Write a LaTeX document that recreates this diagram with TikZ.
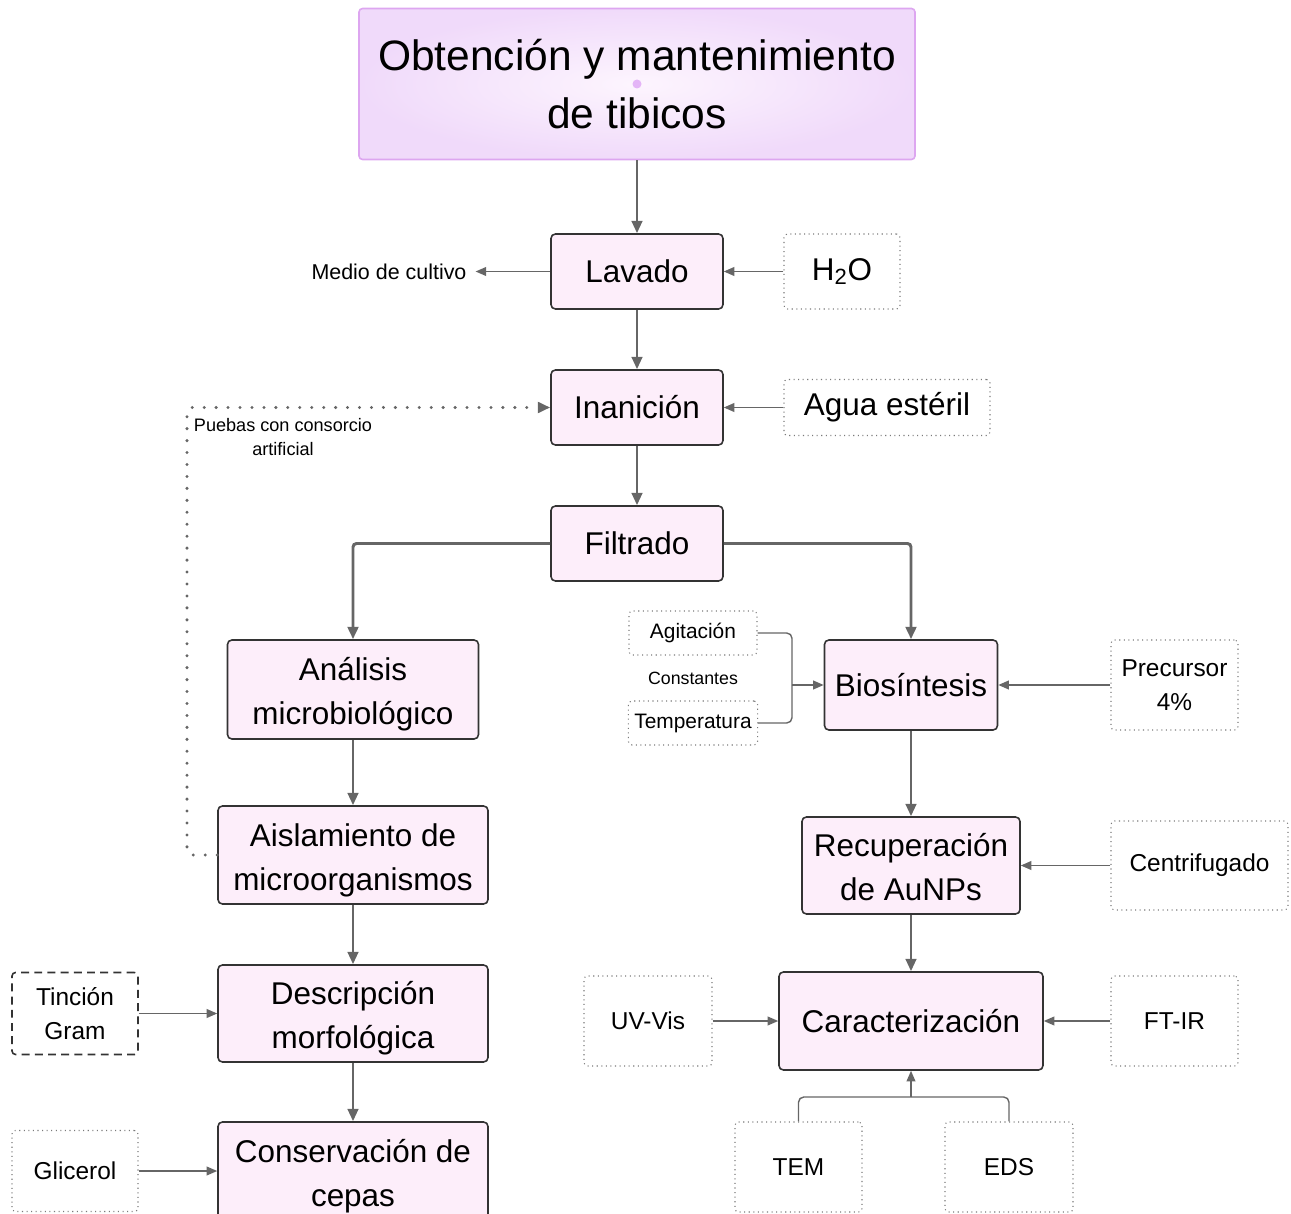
\documentclass[tikz,border=0pt]{standalone}
\usepackage{fontspec}
\setmainfont{Liberation Sans}
\usetikzlibrary{arrows.meta,positioning,calc}
\definecolor{tibpink}{HTML}{FDEEFA}
\definecolor{tibedge}{HTML}{333333}
\definecolor{tibline}{HTML}{666666}
\definecolor{tibviolet}{HTML}{DDA6F0}
\definecolor{tiblilac}{HTML}{F0DAFA}
\definecolor{tibglow}{HTML}{FDF5FE}
\definecolor{tibdot}{HTML}{7A7A7A}
\definecolor{tibmark}{HTML}{DA9AF5}

\begin{document}
\begin{tikzpicture}[
  tibproc/.style={draw=tibedge,fill=tibpink,rounded corners=2.5pt,line width=0.9pt,
    align=center,font=\fontsize{17.9}{25}\selectfont},
  tibtwo/.style={tibproc,text height=40pt,text depth=0pt},
  tibinput/.style={draw=tibdot,dotted,rounded corners=2pt,line width=0.6pt,
    align=center,font=\fontsize{13.9}{19.3}\selectfont},
  tibsmall/.style={tibinput,font=\fontsize{11.9}{14}\selectfont},
  tibnote/.style={align=center,inner sep=1pt},
  tibarr/.style={-{Triangle[length=7pt,width=6pt]},line width=1.5pt,tibline},
  tibthin/.style={-{Triangle[length=6pt,width=5pt]},line width=0.8pt,tibline}
]
  \useasboundingbox (0,0) rectangle (25.82,-24.28);

  % Title
  \node[draw=tibviolet,line width=0.9pt,rounded corners=2pt,inner color=tibglow,outer color=tiblilac,
    minimum width=11.12cm,minimum height=3.02cm,align=center,
    font=\fontsize{24.2}{32.9}\selectfont] (title) at (12.74,-1.68)
    {Obtención y mantenimiento\\de tibicos};
  \fill[tibmark,opacity=0.7] (12.74,-1.68) circle (0.09);

  % Main column
  \node[tibproc,minimum width=3.44cm,minimum height=1.5cm] (lavado) at (12.74,-5.43) {Lavado};
  \node[tibproc,minimum width=3.44cm,minimum height=1.5cm] (inanicion) at (12.74,-8.15) {Inanición};
  \node[tibproc,minimum width=3.44cm,minimum height=1.5cm] (filtrado) at (12.74,-10.87) {Filtrado};

  % Inputs of the main column
  \node[tibinput,minimum width=2.32cm,minimum height=1.5cm,font=\fontsize{17.9}{25}\selectfont]
    (agua) at (16.84,-5.43) {H\textsubscript{2}O};
  \node[tibinput,minimum width=4.12cm,minimum height=1.12cm,font=\fontsize{17.9}{25}\selectfont]
    (esteril) at (17.74,-8.15) {Agua estéril};
  \node[tibnote,font=\fontsize{12.2}{14}\selectfont,inner sep=5pt] (medio) at (7.78,-5.43) {Medio de cultivo};

  % Left branch
  \node[tibtwo,minimum width=5.02cm,minimum height=1.98cm] (analisis) at (7.06,-13.79) {Análisis\\microbiológico};
  \node[tibtwo,minimum width=5.4cm,minimum height=1.96cm] (aislamiento) at (7.06,-17.10) {Aislamiento de\\microorganismos};
  \node[tibtwo,minimum width=5.4cm,minimum height=1.94cm] (descripcion) at (7.06,-20.27) {Descripción\\morfológica};
  \node[tibtwo,minimum width=5.4cm,minimum height=1.96cm] (conservacion) at (7.06,-23.42) {Conservación de\\cepas};
  \node[tibinput,draw=tibedge,solid,dash pattern=on 4.5pt off 3pt,line width=0.9pt,
    minimum width=2.52cm,minimum height=1.64cm] (tincion) at (1.5,-20.27) {Tinción\\Gram};
  \node[tibinput,minimum width=2.52cm,minimum height=1.62cm] (glicerol) at (1.5,-23.42) {Glicerol};

  % Right branch
  \node[tibproc,minimum width=3.46cm,minimum height=1.8cm] (biosintesis) at (18.22,-13.7) {Biosíntesis};
  \node[tibsmall,minimum width=2.56cm,minimum height=0.88cm] (agitacion) at (13.86,-12.66) {Agitación};
  \node[tibsmall,minimum width=2.56cm,minimum height=0.88cm] (temperatura) at (13.86,-14.46) {Temperatura};
  \node[tibnote,font=\fontsize{10.1}{12}\selectfont] (constantes) at (13.86,-13.56) {Constantes};
  \node[tibinput,minimum width=2.54cm,minimum height=1.8cm] (precursor) at (23.49,-13.7) {Precursor\\4\%};
  \node[tibtwo,minimum width=4.36cm,minimum height=1.94cm] (recuperacion) at (18.22,-17.31) {Recuperación\\de AuNPs};
  \node[tibinput,minimum width=3.54cm,minimum height=1.78cm] (centrifugado) at (23.99,-17.31) {Centrifugado};
  \node[tibproc,minimum width=5.28cm,minimum height=1.96cm] (caracterizacion) at (18.22,-20.42) {Caracterización};
  \node[tibinput,minimum width=2.56cm,minimum height=1.8cm] (uvvis) at (12.96,-20.42) {UV-Vis};
  \node[tibinput,minimum width=2.54cm,minimum height=1.8cm] (ftir) at (23.49,-20.42) {FT-IR};
  \node[tibinput,minimum width=2.54cm,minimum height=1.8cm] (tem) at (15.97,-23.34) {TEM};
  \node[tibinput,minimum width=2.56cm,minimum height=1.8cm] (eds) at (20.18,-23.34) {EDS};

  % Junction points
  \coordinate (loopx) at (3.74,-17.10);
  \coordinate (constjoin) at (15.84,-13.7);
  \coordinate (charjoin) at (18.22,-21.94);

  % Main flow
  \draw[tibarr] (title.south) -- (lavado.north);
  \draw[tibarr] (lavado.south) -- (inanicion.north);
  \draw[tibarr] (inanicion.south) -- (filtrado.north);
  \draw[tibthin] (agua.west) -- (lavado.east);
  \draw[tibthin] (lavado.west) -- (medio.east);
  \draw[tibthin] (esteril.west) -- (inanicion.east);

  % Split after filtering
  \draw[tibarr,line width=1.7pt,rounded corners=2pt] (filtrado.west) -| (analisis.north);
  \draw[tibarr,line width=1.7pt,rounded corners=2pt] (filtrado.east) -| (biosintesis.north);

  % Left branch arrows
  \draw[tibarr] (analisis.south) -- (aislamiento.north);
  \draw[tibarr] (aislamiento.south) -- (descripcion.north);
  \draw[tibarr] (descripcion.south) -- (conservacion.north);
  \draw[tibthin] (tincion.east) -- (descripcion.west);
  \draw[tibthin] (glicerol.east) -- (conservacion.west);

  % Artificial consortium loop
  \draw[tibarr,line width=1.9pt,line cap=round,dash pattern=on 0pt off 6.8pt,rounded corners=3pt]
    (aislamiento.west) -- (loopx) |- (inanicion.west);
  \node[tibnote,font=\fontsize{10.3}{13.6}\selectfont] (consorcio) at (5.66,-8.74)
    {Puebas con consorcio\\artificial};

  % Right branch arrows
  \draw[tibline,line width=0.8pt,rounded corners=3pt] (agitacion.east) -| (constjoin);
  \draw[tibline,line width=0.8pt,rounded corners=3pt] (temperatura.east) -| (constjoin);
  \draw[tibthin] (constjoin) -- (biosintesis.west);
  \draw[tibthin] (precursor.west) -- (biosintesis.east);
  \draw[tibarr] (biosintesis.south) -- (recuperacion.north);
  \draw[tibthin] (centrifugado.west) -- (recuperacion.east);
  \draw[tibarr] (recuperacion.south) -- (caracterizacion.north);
  \draw[tibthin] (uvvis.east) -- (caracterizacion.west);
  \draw[tibthin] (ftir.west) -- (caracterizacion.east);
  \draw[tibline,line width=0.8pt,rounded corners=3pt] (tem.north) |- (charjoin);
  \draw[tibline,line width=0.8pt,rounded corners=3pt] (eds.north) |- (charjoin);
  \draw[tibthin] (charjoin) -- (caracterizacion.south);
\end{tikzpicture}
\end{document}
